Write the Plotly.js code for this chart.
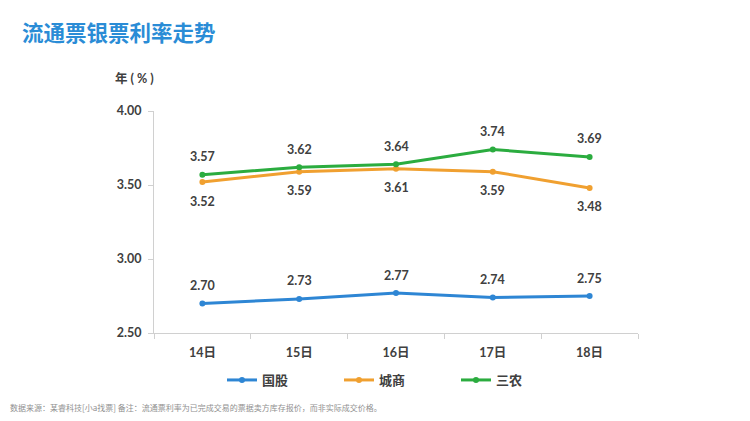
<!DOCTYPE html>
<html><head><meta charset="utf-8">
<script src="https://cdn.plot.ly/plotly-3.0.1.min.js"></script>
<style>html,body{margin:0;padding:0;background:#fff}#chart{width:750px;height:421px}</style>
</head><body><div id="chart"></div>
<script>
const categories = ['14日','15日','16日','17日','18日'];
const guogu = [2.70, 2.73, 2.77, 2.74, 2.75];
const chengshang = [3.52, 3.59, 3.61, 3.59, 3.48];
const sannong = [3.57, 3.62, 3.64, 3.74, 3.69];
const yTicks = [2.5, 3.0, 3.5, 4.0];
const yTickLabels = ['2.50','3.00','3.50','4.00'];

const font = 'Lato, "Noto Sans CJK SC", sans-serif';
const PW = 484, PH = 222;
function series(name, y, color) {
  return {
    type: 'scatter', mode: 'lines+markers', name: name,
    x: categories, y: y,
    line: {color: color, width: 3},
    marker: {color: color, size: 6}
  };
}
const data = [
  series('国股', guogu, '#2e86d4'),
  series('城商', chengshang, '#f0a030'),
  series('三农', sannong, '#2bac3f')
];
function labels(y, shift) {
  return y.map((v, i) => ({
    x: categories[i], y: v, xref: 'x', yref: 'y', text: v.toFixed(2),
    showarrow: false, yshift: shift,
    font: {family: font, size: 12.5, color: '#404040', weight: 'bold'}
  }));
}
const annotations = [].concat(
  labels(guogu, 18), labels(chengshang, -19), labels(sannong, 18),
  [
    {text: '流通票银票利率走势', xref: 'paper', yref: 'paper', x: -134/PW, y: 1 + (111-31)/PH,
      xanchor: 'left', yanchor: 'middle', showarrow: false,
      font: {family: '"Noto Sans CJK SC", sans-serif', size: 21.5, color: '#2a8cd6', weight: 'bold'}},
    {text: '年 ( % )', xref: 'paper', yref: 'paper', x: -20/PW, y: 1 + (111-78)/PH,
      xanchor: 'center', yanchor: 'middle', showarrow: false,
      font: {family: font, size: 12.5, color: '#404040', weight: 'bold'}},
    {text: '数据来源：某睿科技[小a找票] 备注：流通票利率为已完成交易的票据卖方库存报价，而非实际成交价格。',
      xref: 'paper', yref: 'paper', x: -146/PW, y: -(407-333)/PH,
      xanchor: 'left', yanchor: 'middle', showarrow: false,
      font: {family: '"Noto Sans CJK SC", sans-serif', size: 8, color: '#909090'}}
  ]);
const layout = {
  width: 750, height: 421,
  margin: {l: 154, r: 112, t: 111, b: 88},
  paper_bgcolor: '#fff', plot_bgcolor: '#fff',
  showlegend: true,
  legend: {orientation: 'h', x: (222-154)/PW, xanchor: 'left', y: -(380-333)/PH, yanchor: 'middle',
    font: {family: font, size: 13, color: '#404040', weight: 'bold'},
    entrywidth: 72, entrywidthmode: 'pixels', traceorder: 'normal'},
  xaxis: {type: 'category', range: [-0.5, 4.5], showgrid: false, showline: true, linecolor: '#d0d0d0', linewidth: 1,
    ticks: 'outside', tickson: 'boundaries', ticklen: 5, tickcolor: '#d0d0d0', ticklabelstandoff: 8,
    tickfont: {family: font, size: 12.5, color: '#404040', weight: 'bold'}, zeroline: false},
  yaxis: {range: [2.5, 4.0], tickvals: yTicks, ticktext: yTickLabels, showgrid: false,
    showline: true, linecolor: '#d0d0d0', ticks: 'outside', ticklen: 5, tickcolor: '#d0d0d0',
    ticklabelstandoff: 4,
    tickfont: {family: font, size: 12.5, color: '#404040', weight: 'bold'}, zeroline: false},
  annotations: annotations
};
Plotly.newPlot('chart', data, layout, {displayModeBar: false});
</script></body></html>
